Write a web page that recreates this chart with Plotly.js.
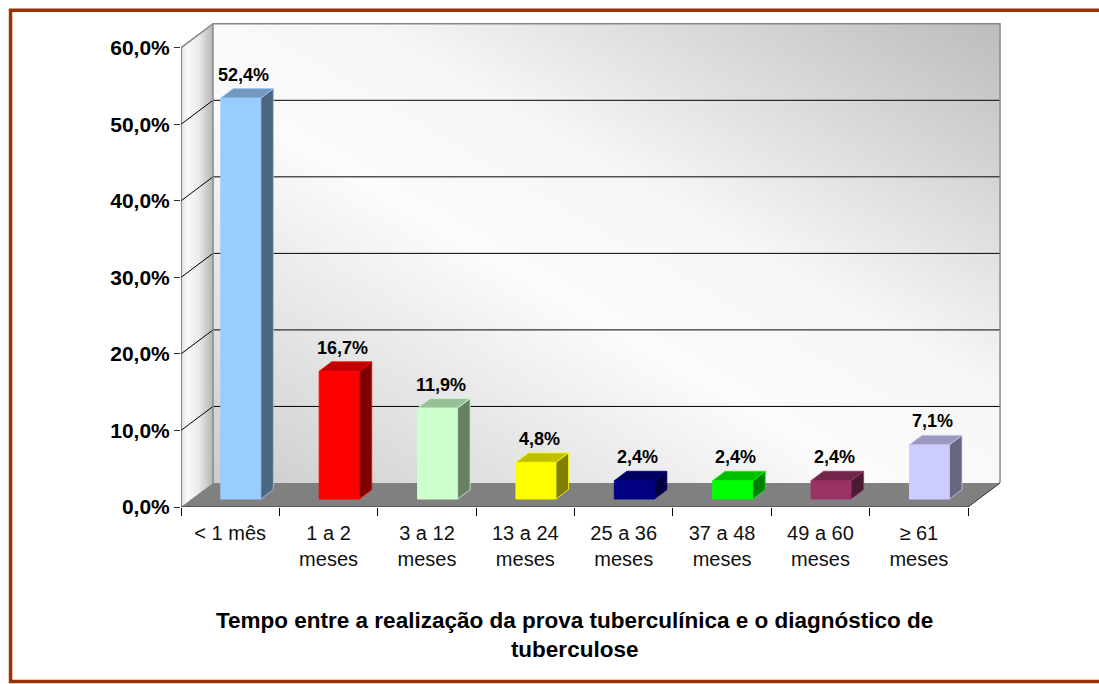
<!DOCTYPE html>
<html>
<head>
<meta charset="utf-8">
<script src="https://cdn.plot.ly/plotly-3.0.1.min.js"></script>
<style>
  html, body { margin: 0; padding: 0; background: #ffffff; }
  #chart { width: 1099px; height: 684px; }
</style>
</head>
<body>
<div id="chart"></div>
<script>
// ---------------- data ----------------
const categories = ['&lt; 1 mês', '1 a 2<br>meses', '3 a 12<br>meses', '13 a 24<br>meses',
                    '25 a 36<br>meses', '37 a 48<br>meses', '49 a 60<br>meses', '≥ 61<br>meses'];
const values = [52.4, 16.7, 11.9, 4.8, 2.4, 2.4, 2.4, 7.1];
const valueLabels = ['52,4%', '16,7%', '11,9%', '4,8%', '2,4%', '2,4%', '2,4%', '7,1%'];
const yTickValues = [0, 10, 20, 30, 40, 50, 60];
const yTickLabels = ['0,0%', '10,0%', '20,0%', '30,0%', '40,0%', '50,0%', '60,0%'];
const axisTitle = 'Tempo entre a realização da prova tuberculínica e o diagnóstico de<br>tuberculose';

// ---------------- styles ----------------
const frontColors = ['#99CCFF', '#FF0000', '#CCFFCC', '#FFFF00', '#000080', '#00FF00', '#993366', '#CCCCFF'];
const topColors   = ['#7399BF', '#BF0000', '#99BF99', '#BFBF00', '#000060', '#00BF00', '#73264C', '#9999BF'];
const sideColors  = ['#4C6680', '#800000', '#668066', '#808000', '#000040', '#008000', '#4C1933', '#666680'];
const FONT = 'Liberation Sans, Arial, Helvetica, sans-serif';

// ---------------- geometry (3D look) ----------------
const N = categories.length;
const X0 = -0.5, X1 = N - 0.5;
const DX = 0.3255, DY = 3.137;     // depth offset of the whole floor
const FD = 0.333, BD = 0.39;       // bar front depth and bar depth (fractions)
const BW = 0.407;                  // bar width
const TOPV = yTickValues[yTickValues.length - 1];

// pixel layout
const L = 181, UNIT_X = 98.4, BOTTOM = 507, UNIT_Y = 7.65;
const xr = [X0, X1 + DX + 0.03];
const yr = [0, TOPV + DY + 0.1];
const PW = (xr[1] - xr[0]) * UNIT_X;
const PH = (yr[1] - yr[0]) * UNIT_Y;
const W = 1099, H = 684;
const margin = { l: L, r: W - L - PW, t: BOTTOM - PH, b: H - BOTTOM, pad: 0 };

const idx = values.map((_, i) => i);
const traces = [];

// side wall
traces.push({
  type: 'scatter', mode: 'lines', xaxis: 'x', yaxis: 'y', hoverinfo: 'skip', showlegend: false,
  x: [X0, X0 + DX, X0 + DX, X0, X0], y: [0, DY, TOPV + DY, TOPV, 0],
  fill: 'toself', line: { width: 0 },
  fillgradient: { type: 'horizontal', colorscale: [[0, '#dedede'], [0.2, '#fafafa'], [0.55, '#eaeaea'], [1, '#b4b4b4']] }
});
// floor
traces.push({
  type: 'scatter', mode: 'lines', xaxis: 'x', yaxis: 'y', hoverinfo: 'skip', showlegend: false,
  x: [X0, X1, X1 + DX, X0 + DX, X0], y: [0, 0, DY, DY, 0],
  fill: 'toself', fillcolor: '#808080', line: { width: 0 }
});
// gridlines: back wall horizontals + side wall diagonals
const gx = [], gy = [];
yTickValues.forEach(v => {
  if (v === 0 || v === TOPV) return;
  gx.push(X0, X0 + DX, X1 + DX, null);
  gy.push(v, v + DY, v + DY, null);
});
traces.push({
  type: 'scatter', mode: 'lines', xaxis: 'x', yaxis: 'y', hoverinfo: 'skip', showlegend: false,
  x: gx, y: gy, line: { color: '#000000', width: 1 }
});
// wall outlines (gray)
traces.push({
  type: 'scatter', mode: 'lines', xaxis: 'x', yaxis: 'y', hoverinfo: 'skip', showlegend: false,
  x: [X0, X0 + DX, X1 + DX, X1 + DX, null, X0 + DX, X0 + DX],
  y: [TOPV, TOPV + DY, TOPV + DY, DY, null, DY, TOPV + DY],
  line: { color: '#8a8a8a', width: 1.5 }
});
// front axis line + floor front/right edges
traces.push({
  type: 'scatter', mode: 'lines', xaxis: 'x', yaxis: 'y', hoverinfo: 'skip', showlegend: false,
  x: [X0, X0, X1, X1 + DX], y: [TOPV, 0, 0, DY],
  line: { color: '#303030', width: 1 }
});

// ---------------- bars (overlay subplot, drawn above structure) ----------------
const base = FD * DY;
traces.push({
  type: 'bar', xaxis: 'x2', yaxis: 'y2', hoverinfo: 'skip', showlegend: false,
  x: idx.map(i => i + FD * DX), y: values, base: base, width: BW,
  marker: { color: frontColors, line: { color: frontColors, width: 1 } }
});
values.forEach((v, i) => {
  const xl = i + FD * DX - BW / 2, xrr = i + FD * DX + BW / 2;
  const ex = BD * DX, ey = BD * DY;
  traces.push({
    type: 'scatter', mode: 'lines', xaxis: 'x2', yaxis: 'y2', hoverinfo: 'skip', showlegend: false,
    x: [xrr, xrr + ex, xrr + ex, xrr, xrr], y: [base, base + ey, base + v + ey, base + v, base],
    fill: 'toself', fillcolor: sideColors[i], line: { color: frontColors[i], width: 0.8 }
  });
  traces.push({
    type: 'scatter', mode: 'lines', xaxis: 'x2', yaxis: 'y2', hoverinfo: 'skip', showlegend: false,
    x: [xl, xrr, xrr + ex, xl + ex, xl], y: [base + v, base + v, base + v + ey, base + v + ey, base + v],
    fill: 'toself', fillcolor: topColors[i], line: { color: frontColors[i], width: 0.8 }
  });
});

// ---------------- annotations ----------------
const annotations = values.map((v, i) => ({
  xref: 'x2', yref: 'y2', x: i + FD * DX + BD * DX * 0.25, y: base + v + BD * DY,
  text: valueLabels[i], showarrow: false, xanchor: 'center', yanchor: 'bottom', yshift: 2,
  font: { family: FONT, size: 18, color: '#000000', weight: 'bold' }
}));
annotations.push({
  xref: 'x', yref: 'paper', x: (X0 + X1) / 2, y: -(634.5 - BOTTOM) / PH,
  xanchor: 'center', yanchor: 'middle', showarrow: false, text: axisTitle,
  font: { family: FONT, size: 22.5, color: '#000000', weight: 'bold' }
});

// back wall gradient image
const svg = '<svg xmlns="http://www.w3.org/2000/svg" width="100" height="100" viewBox="0 0 100 100" preserveAspectRatio="none">' +
  '<defs><linearGradient id="g" x1="0" y1="1" x2="1" y2="0">' +
  '<stop offset="0" stop-color="#cccccc"/><stop offset="0.42" stop-color="#fbfbfb"/><stop offset="0.6" stop-color="#f6f6f6"/><stop offset="1" stop-color="#bcbcbc"/>' +
  '</linearGradient></defs><rect x="0" y="0" width="100" height="100" fill="url(#g)"/></svg>';
const images = [{
  source: 'data:image/svg+xml;charset=utf-8,' + encodeURIComponent(svg),
  xref: 'x', yref: 'y', x: X0 + DX, y: TOPV + DY, sizex: X1 - X0, sizey: TOPV,
  xanchor: 'left', yanchor: 'top', sizing: 'stretch', layer: 'below'
}];

// outer brown frame (paper fractions computed from pixel margins)
const px2fx = p => (p - L) / PW;
const py2fy = p => (BOTTOM - p) / PH;
const shapes = [{
  type: 'rect', xref: 'paper', yref: 'paper', layer: 'above',
  x0: px2fx(10.5), x1: px2fx(1200), y0: py2fy(681.5), y1: py2fy(10.5),
  line: { color: '#993300', width: 3.5 }, fillcolor: 'rgba(0,0,0,0)'
}];

const layout = {
  width: W, height: H, margin: margin,
  paper_bgcolor: '#ffffff', plot_bgcolor: 'rgba(0,0,0,0)',
  showlegend: false, bargap: 0,
  font: { family: FONT, color: '#000000' },
  xaxis: {
    range: xr, showgrid: false, zeroline: false, showline: false, fixedrange: true,
    tickmode: 'array', tickvals: idx, ticktext: categories,
    ticks: 'outside', ticklen: 8, tickcolor: 'rgba(0,0,0,0)',
    tickfont: { family: FONT, size: 20, color: '#111111' }
  },
  yaxis: {
    range: yr, showgrid: false, zeroline: false, showline: false, fixedrange: true,
    tickmode: 'array', tickvals: yTickValues, ticktext: yTickLabels,
    ticks: 'outside', ticklen: 6, tickcolor: '#303030', tickwidth: 1,
    tickfont: { family: FONT, size: 21, color: '#000000', weight: 'bold' }
  },
  xaxis2: {
    overlaying: 'x', anchor: 'y2', range: xr, showgrid: false, zeroline: false, showline: false,
    fixedrange: true, tickmode: 'array', tickvals: idx.map(i => i - 0.5).concat([X1]),
    showticklabels: false, ticks: 'outside', ticklen: 8, tickcolor: '#000000', tickwidth: 1
  },
  yaxis2: {
    overlaying: 'y', anchor: 'x2', range: yr, showgrid: false, zeroline: false, showline: false,
    fixedrange: true, showticklabels: false, ticks: ''
  },
  annotations: annotations, images: images, shapes: shapes
};

Plotly.newPlot('chart', traces, layout, { displayModeBar: false, staticPlot: true });
</script>
</body>
</html>
